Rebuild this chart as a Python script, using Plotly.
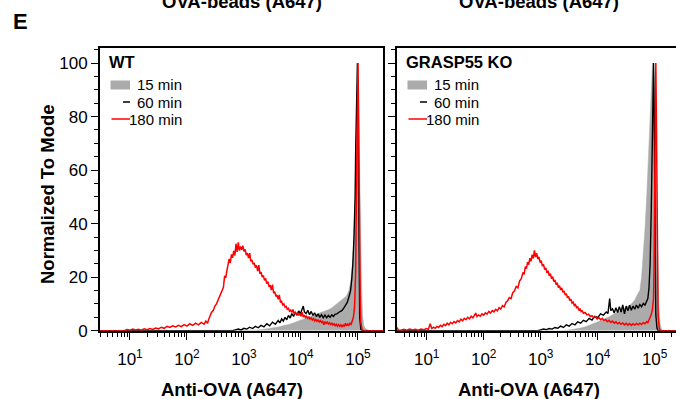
import numpy as np
import plotly.graph_objects as go

# ---------------- data (x in log10 units of fluorescence, y = % of mode) -------------
wt_15_logx = [0.47, 3.10, 3.20, 3.30, 3.40, 3.50, 3.60, 3.70, 3.80, 3.90, 4.00, 4.10, 4.20, 4.30,
              4.40, 4.50, 4.55, 4.60, 4.65, 4.70, 4.75, 4.80, 4.84, 4.87, 4.90, 4.92, 4.94, 4.96,
              4.97, 4.98, 4.99, 5.00, 5.01, 5.02, 5.04, 5.06, 5.08, 5.10, 5.13, 5.17, 5.20, 5.44]
wt_15_y = [0, 0, 0.2, 0.4, 0.7, 1.0, 1.4, 1.9, 2.4, 3.2, 4.0, 4.8, 5.6, 6.3,
           7.0, 8.0, 8.7, 9.6, 10.6, 11.5, 12.2, 13.0, 15.0, 18.0, 24.0, 30.0, 42.0, 60.0,
           75.0, 88.0, 97.0, 100.0, 90.0, 75.0, 45.0, 18.0, 6.0, 2.0, 0.8, 0.2, 0, 0]

wt_60_logx = [0.47, 2.80, 2.85, 2.90, 2.95, 3.00, 3.05, 3.10, 3.15, 3.20, 3.25, 3.30, 3.35, 3.40,
              3.45, 3.50, 3.55, 3.60, 3.63, 3.66, 3.69, 3.72, 3.75, 3.78, 3.81, 3.84, 3.87, 3.90,
              3.93, 3.96, 3.99, 4.02, 4.04, 4.06, 4.09, 4.12, 4.15, 4.18, 4.21, 4.24, 4.27, 4.30,
              4.33, 4.36, 4.39, 4.42, 4.45, 4.48, 4.51, 4.54, 4.57, 4.60, 4.63, 4.66, 4.69, 4.72,
              4.75, 4.78, 4.81, 4.84, 4.87, 4.89, 4.91, 4.93, 4.95, 4.96, 4.97, 4.98, 4.99, 5.00,
              5.01, 5.02, 5.03, 5.05, 5.08, 5.44]
wt_60_y = [0, 0, 0.3, 0.6, 0.3, 0.9, 0.6, 1.3, 0.8, 1.6, 1.1, 2.0, 1.4, 2.6,
           1.8, 3.2, 2.4, 3.8, 2.9, 4.4, 3.6, 5.0, 4.1, 5.7, 4.7, 6.4, 5.3, 6.9,
           5.8, 7.4, 6.3, 8.0, 9.2, 7.0, 6.4, 7.6, 6.0, 7.2, 5.7, 6.7, 5.3, 6.3,
           5.0, 6.0, 4.8, 5.8, 4.8, 5.7, 5.0, 5.9, 5.3, 6.2, 6.3, 6.8, 7.2, 7.6,
           8.4, 9.4, 10.5, 12.5, 15.0, 19.0, 25.0, 35.0, 50.0, 68.0, 85.0, 97.0, 100.0, 80.0,
           45.0, 18.0, 5.0, 0.5, 0, 0]

wt_180_logx = [0.47, 0.90, 0.95, 1.00, 1.05, 1.10, 1.15, 1.20, 1.25, 1.30, 1.35, 1.40, 1.45, 1.50,
               1.55, 1.60, 1.65, 1.70, 1.75, 1.80, 1.85, 1.90, 1.95, 2.00, 2.05, 2.10, 2.15, 2.20,
               2.25, 2.30, 2.33, 2.36, 2.38, 2.40, 2.43, 2.46, 2.49, 2.52, 2.55, 2.58, 2.61, 2.64,
               2.66, 2.68, 2.70, 2.72, 2.74, 2.76, 2.78, 2.80, 2.82, 2.84, 2.86, 2.88, 2.90, 2.92,
               2.94, 2.96, 2.98, 3.00, 3.02, 3.04, 3.06, 3.08, 3.10, 3.12, 3.14, 3.16, 3.18, 3.20,
               3.22, 3.24, 3.26, 3.28, 3.30, 3.32, 3.34, 3.36, 3.38, 3.40, 3.42, 3.44, 3.46, 3.48,
               3.50, 3.52, 3.54, 3.56, 3.58, 3.60, 3.62, 3.64, 3.66, 3.68, 3.70, 3.72, 3.74, 3.76,
               3.78, 3.80, 3.82, 3.84, 3.86, 3.88, 3.90, 3.92, 3.94, 3.96, 3.98, 4.00, 4.02, 4.04,
               4.06, 4.08, 4.10, 4.12, 4.14, 4.16, 4.18, 4.20, 4.22, 4.24, 4.26, 4.28, 4.30, 4.32,
               4.34, 4.36, 4.38, 4.40, 4.42, 4.44, 4.46, 4.48, 4.50, 4.52, 4.54, 4.56, 4.58, 4.60,
               4.62, 4.64, 4.66, 4.68, 4.70, 4.72, 4.74, 4.76, 4.78, 4.80, 4.82, 4.84, 4.86, 4.88,
               4.90, 4.92, 4.94, 4.96, 4.97, 4.98, 4.99, 5.00, 5.01, 5.02, 5.03, 5.04, 5.05, 5.07,
               5.10, 5.44]
wt_180_y = [0, 0, 0.4, 0.2, 0.6, 0.3, 0.5, 0.2, 0.7, 0.4, 0.8, 0.5, 1.0, 0.7,
            1.3, 0.9, 1.6, 1.2, 1.8, 1.4, 2.0, 1.5, 2.3, 1.7, 2.6, 2.0, 2.8, 2.2,
            3.1, 2.4, 3.6, 2.8, 4.2, 5.5, 6.8, 7.5, 9.2, 10.1, 11.8, 13.0, 14.6, 16.2,
            20.5, 19.7, 22.4, 24.1, 26.8, 25.3, 28.5, 27.2, 29.8, 28.1, 32.5, 29.4, 33.0, 29.9,
            31.5, 30.2, 31.8, 29.6, 30.4, 28.2, 29.0, 27.1, 29.0, 25.9, 26.4, 24.8, 25.3, 23.6,
            24.4, 22.3, 24.5, 21.2, 21.9, 20.0, 20.6, 18.8, 19.5, 17.6, 18.3, 16.4, 17.0, 15.2,
            17.2, 14.0, 14.6, 12.8, 13.3, 11.7, 13.4, 10.6, 11.0, 9.6, 10.0, 8.8, 9.1, 8.0,
            8.4, 7.3, 7.7, 6.8, 7.9, 6.3, 6.9, 6.0, 6.6, 5.7, 6.4, 5.4, 6.9, 5.1,
            5.8, 4.9, 5.4, 4.6, 5.1, 4.3, 4.8, 4.0, 4.5, 3.7, 4.2, 3.5, 4.0, 3.3,
            3.8, 3.1, 3.6, 2.2, 3.4, 2.7, 3.2, 2.5, 3.0, 2.3, 2.8, 2.1, 2.6, 1.9,
            2.4, 1.7, 2.3, 1.6, 2.2, 1.5, 2.1, 1.6, 2.8, 1.8, 2.5, 2.0, 2.8, 2.4,
            3.6, 5.0, 9.0, 22.0, 45.0, 75.0, 96.0, 100.0, 80.0, 50.0, 25.0, 10.0, 3.0, 0.5,
            0, 0]

ko_15_logx = [0.48, 3.40, 3.50, 3.60, 3.70, 3.80, 3.90, 4.00, 4.10, 4.20, 4.30, 4.40, 4.50, 4.55,
              4.60, 4.65, 4.71, 4.74, 4.77, 4.80, 4.83, 4.86, 4.88, 4.90, 4.92, 4.94, 4.96, 4.97,
              4.99, 5.01, 5.03, 5.05, 5.07, 5.09, 5.12, 5.15, 5.37]
ko_15_y = [0, 0, 0.3, 0.6, 1.0, 1.6, 2.4, 3.2, 4.2, 5.2, 6.3, 7.4, 8.5, 9.3,
           10.2, 11.5, 14.0, 15.0, 20.0, 28.0, 38.0, 50.0, 60.0, 72.0, 83.0, 92.0, 99.0, 100.0,
           95.0, 80.0, 55.0, 28.0, 10.0, 3.0, 0.5, 0, 0]

ko_60_logx = [0.48, 2.95, 3.00, 3.05, 3.10, 3.15, 3.20, 3.25, 3.30, 3.35, 3.40, 3.45, 3.50, 3.55,
              3.60, 3.65, 3.70, 3.75, 3.80, 3.85, 3.90, 3.95, 4.00, 4.05, 4.10, 4.15, 4.18, 4.21,
              4.23, 4.26, 4.29, 4.32, 4.35, 4.38, 4.41, 4.44, 4.47, 4.50, 4.53, 4.56, 4.59, 4.62,
              4.65, 4.68, 4.71, 4.74, 4.77, 4.80, 4.83, 4.86, 4.88, 4.90, 4.92, 4.94, 4.96, 4.97,
              4.98, 4.99, 5.00, 5.01, 5.02, 5.04, 5.06, 5.37]
ko_60_y = [0, 0, 0.3, 0.6, 0.4, 0.8, 0.6, 1.2, 0.9, 1.7, 1.2, 2.2, 1.7, 2.7,
           2.2, 3.3, 2.8, 3.9, 3.4, 4.6, 4.0, 5.4, 4.9, 6.3, 5.8, 7.0, 6.4, 12.0,
           7.5, 8.2, 6.6, 8.6, 6.8, 9.0, 7.0, 9.6, 6.3, 9.2, 7.4, 9.5, 7.6, 9.2,
           8.0, 9.6, 8.4, 9.8, 9.0, 10.2, 9.6, 10.8, 12.0, 16.0, 25.0, 45.0, 75.0, 90.0,
           100.0, 85.0, 50.0, 20.0, 6.0, 1.0, 0, 0]

ko_180_logx = [0.48, 0.50, 0.55, 0.60, 0.65, 0.70, 0.75, 0.80, 0.85, 0.90, 0.95, 1.00, 1.03, 1.06,
               1.09, 1.12, 1.15, 1.18, 1.21, 1.24, 1.27, 1.30, 1.33, 1.36, 1.39, 1.42, 1.45, 1.48,
               1.51, 1.54, 1.57, 1.60, 1.63, 1.66, 1.69, 1.72, 1.75, 1.78, 1.81, 1.84, 1.86, 1.88,
               1.91, 1.94, 1.97, 2.00, 2.03, 2.06, 2.09, 2.12, 2.15, 2.18, 2.21, 2.24, 2.27, 2.30,
               2.33, 2.36, 2.39, 2.42, 2.45, 2.48, 2.51, 2.54, 2.57, 2.60, 2.63, 2.66, 2.69, 2.71,
               2.73, 2.75, 2.77, 2.79, 2.81, 2.83, 2.85, 2.87, 2.89, 2.91, 2.93, 2.95, 2.97, 2.99,
               3.01, 3.03, 3.05, 3.07, 3.09, 3.11, 3.13, 3.15, 3.17, 3.19, 3.21, 3.23, 3.25, 3.27,
               3.29, 3.31, 3.33, 3.35, 3.37, 3.39, 3.41, 3.43, 3.45, 3.47, 3.49, 3.51, 3.53, 3.55,
               3.57, 3.59, 3.61, 3.63, 3.65, 3.67, 3.69, 3.71, 3.73, 3.75, 3.78, 3.81, 3.84, 3.87,
               3.90, 3.93, 3.96, 3.99, 4.02, 4.05, 4.08, 4.11, 4.14, 4.17, 4.20, 4.23, 4.26, 4.29,
               4.32, 4.35, 4.38, 4.41, 4.44, 4.47, 4.50, 4.53, 4.56, 4.59, 4.62, 4.65, 4.68, 4.71,
               4.74, 4.77, 4.80, 4.83, 4.86, 4.88, 4.90, 4.92, 4.94, 4.96, 4.98, 4.99, 5.00, 5.01,
               5.02, 5.03, 5.04, 5.05, 5.06, 5.08, 5.10, 5.37]
ko_180_y = [1.2, 0.3, 0.2, 0.5, 0.2, 0.6, 0.3, 0.5, 0.2, 0.6, 0.4, 0.8, 0.5, 2.6,
            0.8, 1.3, 0.9, 1.6, 1.2, 2.0, 1.5, 2.4, 1.9, 2.8, 2.2, 3.1, 2.6, 3.4,
            2.9, 3.8, 3.3, 4.3, 3.7, 4.6, 4.1, 5.0, 4.4, 5.4, 4.8, 6.0, 6.6, 5.3,
            5.9, 5.4, 6.3, 5.8, 6.7, 6.2, 7.2, 6.6, 7.5, 7.0, 8.0, 7.4, 8.6, 8.1,
            9.4, 8.9, 10.6, 11.2, 12.4, 12.0, 14.2, 14.8, 16.5, 16.0, 18.6, 19.4, 21.8, 21.0,
            23.9, 23.2, 25.6, 24.7, 27.1, 25.9, 28.4, 27.0, 30.0, 27.5, 28.9, 26.7, 27.6, 25.4,
            26.2, 24.1, 24.8, 22.8, 23.5, 21.6, 22.4, 20.5, 21.3, 19.4, 20.2, 18.3, 19.0, 17.2,
            17.9, 16.1, 16.8, 15.2, 16.0, 14.3, 14.9, 13.3, 13.8, 12.3, 12.8, 11.3, 11.8, 10.3,
            10.7, 9.4, 9.8, 8.6, 8.9, 7.8, 8.1, 7.1, 7.4, 6.5, 6.8, 5.9, 6.2, 5.3,
            5.6, 4.8, 5.2, 4.4, 4.9, 4.1, 4.6, 3.8, 4.2, 3.4, 3.9, 3.1, 3.6, 2.8,
            3.3, 2.6, 3.1, 2.4, 2.9, 2.2, 2.8, 2.1, 2.7, 2.0, 2.6, 2.1, 2.7, 2.2,
            2.8, 2.3, 3.0, 2.6, 3.4, 3.0, 4.0, 4.5, 6.0, 8.0, 12.0, 25.0, 55.0, 85.0,
            100.0, 80.0, 45.0, 18.0, 6.0, 1.0, 0, 0]

x_tickvals = [10, 100, 1000, 10000, 100000]
x_ticktext = ["10<sup>1</sup>", "10<sup>2</sup>", "10<sup>3</sup>", "10<sup>4</sup>", "10<sup>5</sup>"]
x_minorvals = [m * d for d in [1, 10, 100, 1000, 10000, 100000] for m in [2, 3, 4, 5, 6, 7, 8, 9]]
y_tickvals = [0, 20, 40, 60, 80, 100]
legend_labels = ["15 min", "60 min", "180 min"]
panel_labels = ["WT", "GRASP55 KO"]
col_titles = ["OVA-beads (A647)", "OVA-beads (A647)"]

# ---------------- figure ----------------
W, H = 676, 399
FONT = "Liberation Sans, Arial, sans-serif"
GREY = "#ababab"
RED = "#ff0000"


def fx(px):
    return px / W


def fy(py):
    return (H - py) / H


fig = go.Figure()

panels = [
    (wt_15_logx, wt_15_y, wt_60_logx, wt_60_y, wt_180_logx, wt_180_y, "x", "y"),
    (ko_15_logx, ko_15_y, ko_60_logx, ko_60_y, ko_180_logx, ko_180_y, "x2", "y2"),
]
for g_x, g_y, b_x, b_y, r_x, r_y, xa, ya in panels:
    fig.add_trace(go.Scatter(x=np.power(10.0, g_x), y=g_y, mode="lines", fill="tozeroy",
                             fillcolor=GREY, line=dict(color=GREY, width=0.5),
                             xaxis=xa, yaxis=ya, showlegend=False))
    fig.add_trace(go.Scatter(x=np.power(10.0, b_x), y=b_y, mode="lines",
                             line=dict(color="black", width=1.4),
                             xaxis=xa, yaxis=ya, showlegend=False))
    fig.add_trace(go.Scatter(x=np.power(10.0, r_x), y=r_y, mode="lines",
                             line=dict(color=RED, width=1.5),
                             xaxis=xa, yaxis=ya, showlegend=False))

tickfont = dict(family=FONT, size=17, color="black")
xcommon = dict(type="log", showgrid=False, zeroline=False, showline=True, linecolor="black",
               linewidth=2, mirror=True, ticks="outside", ticklen=7, tickwidth=1.3,
               tickcolor="black", tickmode="array", tickvals=x_tickvals, ticktext=x_ticktext,
               tickfont=tickfont, ticklabelstandoff=5,
               minor=dict(tickmode="array", tickvals=x_minorvals, ticks="outside", ticklen=4,
                          tickwidth=1.1, tickcolor="black", showgrid=False))
ycommon = dict(range=[0, 105.5], showgrid=False, zeroline=False, showline=True, linecolor="black",
               linewidth=2, ticks="outside", ticklen=7, tickwidth=1.3, tickcolor="black",
               tickmode="array", tickvals=y_tickvals, tickfont=tickfont,
               minor=dict(dtick=5, tick0=0, ticks="outside", ticklen=4, tickwidth=1.1,
                          tickcolor="black", showgrid=False))

ydom = [fy(330.7), fy(48.3)]
fig.update_layout(
    width=W, height=H,
    margin=dict(l=0, r=0, t=0, b=0, autoexpand=False),
    paper_bgcolor="white", plot_bgcolor="white",
    font=dict(family=FONT, color="black"),
    xaxis=dict(xcommon, domain=[fx(100), fx(383)], range=[0.474, 5.439], anchor="y"),
    xaxis2=dict(xcommon, domain=[fx(397), 1.0], range=[0.479, 5.374], anchor="y2"),
    yaxis=dict(ycommon, domain=ydom, anchor="x", mirror=True),
    yaxis2=dict(ycommon, domain=ydom, anchor="x2", mirror=False, showticklabels=False),
)

ann = []
shapes = []
bold18 = dict(family="Liberation Sans, Arial, sans-serif", size=18.5, color="black")
# panel letter
ann.append(dict(x=fx(11), y=fy(21.5), xref="paper", yref="paper", text="<b>E</b>",
                showarrow=False, xanchor="left", yanchor="middle",
                font=dict(family=FONT, size=22, color="black")))
for i, left in enumerate([100, 397]):
    # column titles (cut at the top of the figure, as in the source image)
    ann.append(dict(x=fx(left + 141.5), y=fy(1.0), xref="paper", yref="paper",
                    text="<b>" + col_titles[i] + "</b>", showarrow=False,
                    xanchor="center", yanchor="middle", font=bold18))
    # x axis title
    ann.append(dict(x=fx(left + 131.5), y=fy(389.5), xref="paper", yref="paper",
                    text="<b>Anti-OVA (A647)</b>", showarrow=False,
                    xanchor="center", yanchor="middle", font=bold18))
    # panel label
    ann.append(dict(x=fx(left + 7), y=fy(61.5), xref="paper", yref="paper",
                    text="<b>" + panel_labels[i] + "</b>", showarrow=False,
                    xanchor="left", yanchor="middle",
                    font=dict(family=FONT, size=16.5, color="black")))
    # legend
    rows = [84, 102, 119]
    for j, lab in enumerate(legend_labels):
        ann.append(dict(x=fx(left + 83.5), y=fy(rows[j]), xref="paper", yref="paper",
                        text=lab, showarrow=False, xanchor="right", yanchor="middle",
                        font=dict(family=FONT, size=15, color="black")))
    shapes.append(dict(type="rect", xref="paper", yref="paper",
                       x0=fx(left + 10.5), x1=fx(left + 30), y0=fy(89.5), y1=fy(80.5),
                       fillcolor=GREY, line=dict(width=0)))
    shapes.append(dict(type="line", xref="paper", yref="paper",
                       x0=fx(left + 23), x1=fx(left + 30), y0=fy(102), y1=fy(102),
                       line=dict(color="black", width=1.5)))
    shapes.append(dict(type="line", xref="paper", yref="paper",
                       x0=fx(left + 11.5), x1=fx(left + 30), y0=fy(119), y1=fy(119),
                       line=dict(color=RED, width=1.5)))

# y axis title
ann.append(dict(x=fx(47), y=fy(194), xref="paper", yref="paper",
                text="<b>Normalized To Mode</b>", showarrow=False, textangle=-90,
                xanchor="center", yanchor="middle", font=bold18))

fig.update_layout(annotations=ann, shapes=shapes)
fig.write_html("out.html")
